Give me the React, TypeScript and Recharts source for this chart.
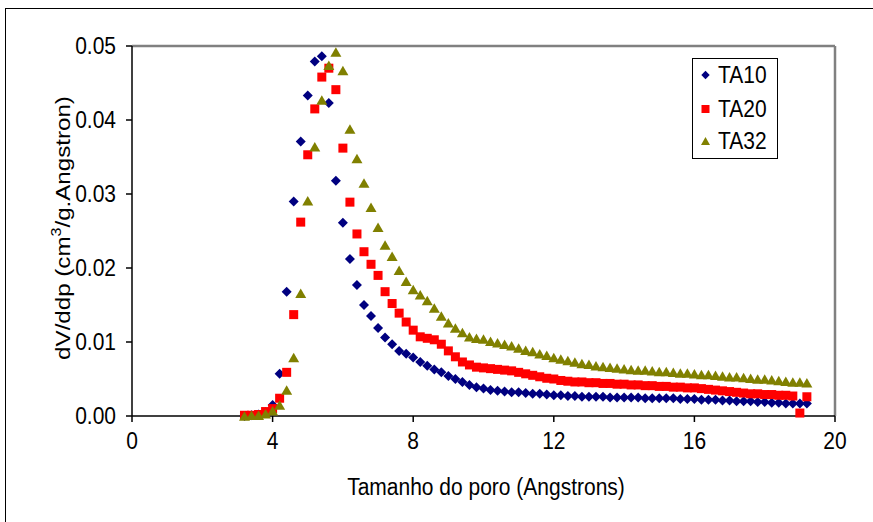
import { ScatterChart, Scatter, XAxis, YAxis, ReferenceLine, Legend, Label } from 'recharts'

// pore size (Angstroms), shared by all three samples
const poreSize = [
  3.2, 3.4, 3.6, 3.8, 4.0, 4.2, 4.4, 4.6, 4.8, 5.0,
  5.2, 5.4, 5.6, 5.8, 6.0, 6.2, 6.4, 6.6, 6.8, 7.0,
  7.2, 7.4, 7.6, 7.8, 8.0, 8.2, 8.4, 8.6, 8.8, 9.0,
  9.2, 9.4, 9.6, 9.8, 10.0, 10.2, 10.4, 10.6, 10.8, 11.0,
  11.2, 11.4, 11.6, 11.8, 12.0, 12.2, 12.4, 12.6, 12.8, 13.0,
  13.2, 13.4, 13.6, 13.8, 14.0, 14.2, 14.4, 14.6, 14.8, 15.0,
  15.2, 15.4, 15.6, 15.8, 16.0, 16.2, 16.4, 16.6, 16.8, 17.0,
  17.2, 17.4, 17.6, 17.8, 18.0, 18.2, 18.4, 18.6, 18.8, 19.0,
  19.2,
]

const ta10 = [
  0.0000, 0.0001, 0.0002, 0.0005, 0.0015, 0.0057, 0.0168, 0.0290, 0.0371, 0.0433,
  0.0479, 0.0486, 0.0423, 0.0318, 0.0261, 0.0212, 0.0177, 0.0150, 0.0135, 0.0119,
  0.0106, 0.0097, 0.0088, 0.0084, 0.0079, 0.0073, 0.0068, 0.0063, 0.0059, 0.0054,
  0.0050, 0.0046, 0.0042, 0.0039, 0.0037, 0.0035, 0.0034, 0.0033, 0.0032, 0.0032,
  0.0031, 0.0030, 0.0030, 0.0029, 0.0028, 0.0028, 0.0027, 0.0027, 0.0026, 0.0026,
  0.0026, 0.0026, 0.0025, 0.0025, 0.0025, 0.0025, 0.0025, 0.0024, 0.0024, 0.0024,
  0.0024, 0.0024, 0.0023, 0.0023, 0.0023, 0.0022, 0.0022, 0.0022, 0.0021, 0.0021,
  0.0020, 0.0020, 0.0020, 0.0019, 0.0019, 0.0018, 0.0018, 0.0017, 0.0017, 0.0017,
  0.0017,
]

const ta20 = [
  0.0001, 0.0001, 0.0002, 0.0006, 0.0010, 0.0024, 0.0059, 0.0137, 0.0262, 0.0353,
  0.0415, 0.0458, 0.0470, 0.0441, 0.0362, 0.0289, 0.0246, 0.0222, 0.0205, 0.0190,
  0.0168, 0.0152, 0.0139, 0.0127, 0.0116, 0.0107, 0.0105, 0.0103, 0.0097, 0.0088,
  0.0080, 0.0073, 0.0069, 0.0066, 0.0065, 0.0064, 0.0063, 0.0062, 0.0061, 0.0059,
  0.0057, 0.0055, 0.0053, 0.0051, 0.0050, 0.0048, 0.0047, 0.0046, 0.0046, 0.0045,
  0.0045, 0.0044, 0.0044, 0.0043, 0.0043, 0.0042, 0.0042, 0.0041, 0.0041, 0.0040,
  0.0040, 0.0039, 0.0039, 0.0038, 0.0038, 0.0037, 0.0036, 0.0035, 0.0034, 0.0033,
  0.0032, 0.0031, 0.0030, 0.0030, 0.0029, 0.0029, 0.0028, 0.0028, 0.0027, 0.0004,
  0.0026,
]

const ta32 = [
  0.0000, 0.0001, 0.0001, 0.0003, 0.0007, 0.0015, 0.0035, 0.0079, 0.0166, 0.0291,
  0.0364, 0.0427, 0.0474, 0.0492, 0.0467, 0.0388, 0.0348, 0.0315, 0.0282, 0.0255,
  0.0231, 0.0216, 0.0197, 0.0182, 0.0171, 0.0164, 0.0156, 0.0146, 0.0135, 0.0126,
  0.0119, 0.0113, 0.0107, 0.0105, 0.0104, 0.0101, 0.0099, 0.0097, 0.0095, 0.0092,
  0.0089, 0.0087, 0.0084, 0.0082, 0.0079, 0.0077, 0.0075, 0.0073, 0.0071, 0.0070,
  0.0068, 0.0067, 0.0066, 0.0065, 0.0064, 0.0063, 0.0062, 0.0062, 0.0061, 0.0060,
  0.0060, 0.0059, 0.0058, 0.0058, 0.0057, 0.0056, 0.0056, 0.0055, 0.0054, 0.0053,
  0.0053, 0.0052, 0.0051, 0.0050, 0.0050, 0.0049, 0.0048, 0.0047, 0.0046, 0.0046,
  0.0045,
]

const xTicks = [0, 4, 8, 12, 16, 20]
const yTicks = [0, 0.01, 0.02, 0.03, 0.04, 0.05]

const FONT = '"Liberation Sans", Arial, sans-serif'
const FONT_SIZE = 21
const STRETCH = 1.15 // the source text is a little taller than it is wide
const NAVY = '#000080'
const RED = '#FF0000'
const OLIVE = '#808000'

const toPoints = (ys: number[]) => ys.map((y, i) => ({ x: poreSize[i], y }))

function diamondPath(cx: number, cy: number, r: number) {
  return `M${cx},${cy - r}L${cx + r},${cy}L${cx},${cy + r}L${cx - r},${cy}Z`
}
function trianglePath(cx: number, cy: number, w: number, h: number) {
  return `M${cx},${cy - h / 2}L${cx + w / 2},${cy + h / 2}L${cx - w / 2},${cy + h / 2}Z`
}

const DiamondDot = (p: any) => <path d={diamondPath(p.cx, p.cy, 5)} fill={NAVY} />
const SquareDot = (p: any) => <rect x={p.cx - 4.5} y={p.cy - 4.5} width={9} height={9} fill={RED} />
const TriangleDot = (p: any) => <path d={trianglePath(p.cx, p.cy, 11, 9.5)} fill={OLIVE} />

const textProps = { fontSize: FONT_SIZE, fontFamily: FONT, fill: '#000' }

const XTick = (p: any) => (
  <text transform={`translate(${p.x},${p.y}) scale(1,${STRETCH})`} textAnchor="middle" dy="0.71em" {...textProps}>
    {p.payload.value}
  </text>
)

const YTick = (p: any) => (
  <text transform={`translate(${p.x},${p.y}) scale(1,${STRETCH})`} textAnchor="end" dominantBaseline="central" {...textProps}>
    {Number(p.payload.value).toFixed(2)}
  </text>
)

function LegendBox() {
  const rows = [
    { name: 'TA10', y: 17 },
    { name: 'TA20', y: 51 },
    { name: 'TA32', y: 83 },
  ]
  return (
    <svg width={86} height={101} style={{ display: 'block' }}>
      <rect x={0.5} y={0.5} width={85} height={100} fill="#fff" stroke="#000" />
      <path d={diamondPath(13.5, rows[0].y, 4.2)} fill={NAVY} />
      <rect x={9.5} y={rows[1].y - 4} width={8} height={8} fill={RED} />
      <path d={trianglePath(13.5, rows[2].y, 9, 8)} fill={OLIVE} />
      {rows.map((r) => (
        <text
          key={r.name}
          transform={`translate(26,${r.y}) scale(1,${STRETCH})`}
          dominantBaseline="central"
          {...textProps}
        >
          {r.name}
        </text>
      ))}
    </svg>
  )
}

export default function App() {
  return (
    <div style={{ position: 'fixed', left: 0, top: 0, width: 873, height: 522, overflow: 'hidden', background: '#fff' }}>
      <div style={{ position: 'absolute', left: 5, top: 8, width: 900, height: 600, border: '1px solid #000' }} />
      <div style={{ position: 'absolute', left: 0, top: 0 }}>
        <ScatterChart
          width={873}
          height={522}
          margin={{ top: 46, right: 38, bottom: 66, left: 62 }}
          style={{ fontFamily: FONT }}
        >
          <XAxis
            type="number"
            dataKey="x"
            domain={[0, 20]}
            ticks={xTicks}
            height={40}
            stroke="#000"
            strokeWidth={1.5}
            tickSize={6}
            tickMargin={10}
            tick={XTick}
          >
            <Label
              content={() => (
                <text
                  transform={`translate(486,487) scale(1,${STRETCH})`}
                  textAnchor="middle"
                  dominantBaseline="central"
                  {...textProps}
                >
                  Tamanho do poro (Angstrons)
                </text>
              )}
            />
          </XAxis>
          <YAxis
            type="number"
            dataKey="y"
            domain={[0, 0.05]}
            ticks={yTicks}
            width={70}
            stroke="#000"
            strokeWidth={1.5}
            tickSize={6}
            tickMargin={10}
            tick={YTick}
          >
            <Label
              content={() => (
                <text
                  transform={`translate(63,228) scale(1,${STRETCH}) rotate(-90)`}
                  textAnchor="middle"
                  dominantBaseline="central"
                  {...textProps}
                >
                  dV/ddp (cm<tspan dy={-8} fontSize={14}>3</tspan>
                  <tspan dy={8}>/g.Angstron)</tspan>
                </text>
              )}
            />
          </YAxis>
          <ReferenceLine y={0.05} stroke="#808080" strokeWidth={2.5} />
          <ReferenceLine x={20} stroke="#808080" strokeWidth={2.5} />
          <Scatter name="TA10" data={toPoints(ta10)} shape={DiamondDot} isAnimationActive={false} />
          <Scatter name="TA20" data={toPoints(ta20)} shape={SquareDot} isAnimationActive={false} />
          <Scatter name="TA32" data={toPoints(ta32)} shape={TriangleDot} isAnimationActive={false} />
          <Legend
            layout="vertical"
            align="center"
            verticalAlign="middle"
            content={() => <LegendBox />}
            wrapperStyle={{ left: 692, top: 58, width: 86, height: 101 }}
          />
        </ScatterChart>
      </div>
    </div>
  )
}
